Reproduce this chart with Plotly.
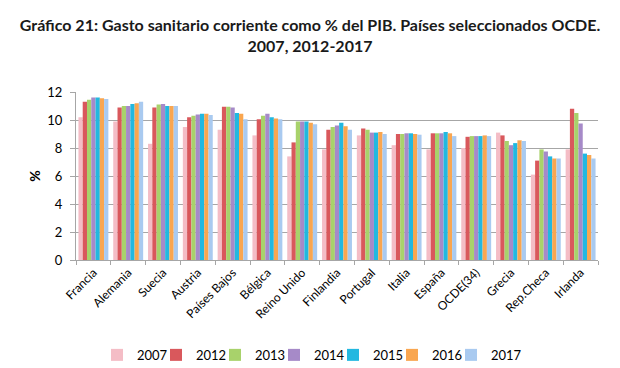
import plotly.graph_objects as go

countries = ["Francia", "Alemania", "Suecia", "Austria", "Países Bajos", "Bélgica",
             "Reino Unido", "Finlandia", "Portugal", "Italia", "España", "OCDE(34)",
             "Grecia", "Rep.Checa", "Irlanda"]
years = ["2007", "2012", "2013", "2014", "2015", "2016", "2017"]

v2007 = [10.2, 9.9, 8.3, 9.5, 9.3, 8.9, 7.4, 7.9, 8.9, 8.2, 7.9, 8.0, 9.1, 6.1, 7.9]
v2012 = [11.3, 10.9, 10.9, 10.2, 10.95, 10.05, 8.4, 9.3, 9.4, 9.0, 9.05, 8.8, 8.9, 7.1, 10.8]
v2013 = [11.45, 11.0, 11.1, 10.3, 10.95, 10.3, 9.9, 9.5, 9.3, 9.0, 9.05, 8.85, 8.5, 7.9, 10.5]
v2014 = [11.6, 11.0, 11.15, 10.4, 10.9, 10.45, 9.9, 9.6, 9.1, 9.05, 9.05, 8.85, 8.2, 7.75, 9.75]
v2015 = [11.6, 11.15, 11.0, 10.45, 10.5, 10.2, 9.9, 9.8, 9.1, 9.05, 9.15, 8.85, 8.35, 7.4, 7.6]
v2016 = [11.55, 11.2, 11.0, 10.45, 10.45, 10.1, 9.8, 9.55, 9.15, 9.0, 9.05, 8.9, 8.55, 7.25, 7.5]
v2017 = [11.5, 11.3, 11.0, 10.35, 10.05, 10.05, 9.7, 9.3, 9.0, 8.95, 8.85, 8.85, 8.5, 7.25, 7.25]

series = [v2007, v2012, v2013, v2014, v2015, v2016, v2017]
colors = ["#F4BDC6", "#D9585C", "#A8D26B", "#A68AC8", "#22B8E0", "#F9A650", "#A9CAF0"]

FONT = "Lato"
W, H = 620, 368

fig = go.Figure()
for y, vals, c in zip(years, series, colors):
    fig.add_trace(go.Bar(name=y, x=countries, y=vals, marker=dict(color=c, line=dict(width=0))))

# empty legend spacer so the last legend entry is not clipped
fig.add_trace(go.Scatter(x=[None], y=[None], mode="none", name="", showlegend=True,
                         hoverinfo="skip"))

fig.update_layout(
    width=W, height=H,
    barmode="group", bargap=0.14, bargroupgap=0,
    plot_bgcolor="white", paper_bgcolor="white",
    margin=dict(l=76, r=22, t=92, b=108, autoexpand=False),
    font=dict(family=FONT, size=13, color="#000000"),
    title=dict(text="<b>Gráfico 21: Gasto sanitario corriente como % del PIB. Países seleccionados OCDE.<br>2007, 2012-2017</b>",
               x=0.5, xref="container", xanchor="center",
               y=1 - 31 / H, yref="container", yanchor="top",
               font=dict(family=FONT, size=16, color="#1a1a1a")),
    showlegend=True,
    legend=dict(orientation="h", x=(97 - 76) / 522, xanchor="left", xref="paper",
                y=-0.565, yanchor="middle", yref="paper", font=dict(size=13),
                traceorder="normal", itemwidth=30, entrywidth=14, entrywidthmode="pixels"),
)
fig.update_yaxes(range=[0, 12], dtick=2, showgrid=True, gridcolor="#A6A6A6", gridwidth=1,
                 showline=True, linecolor="#A6A6A6", ticks="outside", ticklen=5, tickcolor="#A6A6A6",
                 ticklabelstandoff=5,
                 tickfont=dict(size=13), automargin=False,
                 title=dict(text="<b>%</b>", font=dict(size=14), standoff=3))
fig.update_xaxes(showline=True, linecolor="#A6A6A6", ticks="outside", ticklen=4, tickcolor="#A6A6A6",
                 tickson="boundaries", tickangle=-45, tickfont=dict(size=12), automargin=False)

fig.write_html("out.html", config={"displayModeBar": False},
               post_script="document.body.style.margin='0';")
